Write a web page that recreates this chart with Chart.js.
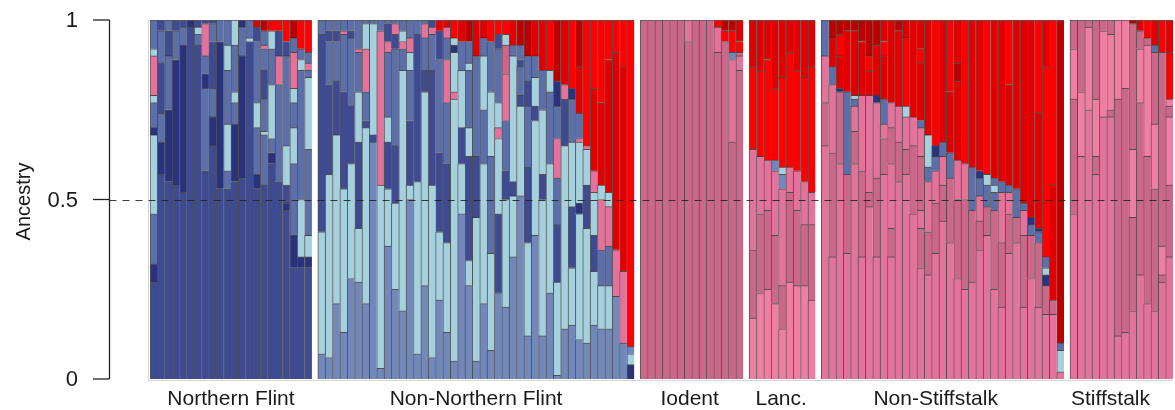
<!DOCTYPE html>
<html><head><meta charset="utf-8">
<script src="https://cdn.jsdelivr.net/npm/chart.js@4.4.1/dist/chart.umd.min.js"></script>
<style>html,body{margin:0;padding:0;background:#fff}#wrap{width:1175px;height:410px;position:relative}</style>
</head><body><div id="wrap"><canvas id="c"></canvas></div>
<script>
// ---- DATA ----
// Each bar: ancestry components stacked bottom -> top; token = component letter + cumulative top (%)
const groups = ['Northern Flint','Non-Northern Flint','Iodent','Lanc.','Non-Stiffstalk','Stiffstalk'];

const northernFlint = [
 "N27 D32 M46 L68 D70 M77 L79 P90 L92 M100","N57 D66 M74 N88 M97 N100","N55 D75 M90 N97 M100",
 "N54 D89 M97 N100","N52 D93 M98 N100","N98 D100","N93 M96 L98 N100","N58 M81 D85 M90 P99 N100",
 "N65 D73 M81 N94 M99 N100","N53 D94 M100","N53 M58 L71 M86 L93 M100","N55 D71 M77 L80 M93 L100",
 "N56 D90 M98 D100","N94 L95 M100","N53 D57 M70 L77 M94 N98 E100","N54 M68 L69 M78 N86 M92 P93 M97 F100",
 "N60 D63 M67 L82 M92 L97 R100","N55 M82 P90 N97 R100","N47 D49 N54 L65 M90 N94 R100",
 "N31 D40 M60 L70 M77 L81 P91 M95 F100","N31 D34 L50 M86 L89 M92 R100","N31 D34 L40 M64 L84 M86 P88 M91 R100"
];
const nonNorthernFlint = [
 "S7 L41 N96 M100","S6 L57 N82 M94 N97 M100","S21 L68 N83 M94 N97 M100","S13 L53 N80 M96 P97 M100",
 "S28 L60 N76 M95 N97 M100","S27 L42 N66 L80 M91 P92 M100","S21 L70 N72 M80 P92 L99 M100","S66 N68 L99 M100",
 "S3 L54 P97 M100","S37 L53 N66 L73 M91 P94 N99 M100","S25 L49 N65 M92 N96 P99 M100","S19 L86 M92 P94 L97 M100",
 "S50 L54 N72 M86 L91 P95 M100","S7 L55 N96 M100","S26 L80 N86 M95 P99 M100","S6 L54 N86 M96 P98 N100",
 "S22 L41 N63 M89 N97 E100","S13 L38 N60 M77 P89 M95 P98 E100","S5 L78 P80 L91 D93 L95 R100",
 "S46 L60 N70 L86 M94 E100","S26 L33 N62 L70 M86 L88 M94 F100","S5 L45 N62 M90 E100",
 "S21 L60 M75 L90 M95 E100","S8 L35 M62 L80 M94 R100","S24 N46 L67 P70 L77 M92 N96 R100",
 "S20 L50 N58 M72 P85 Q93 L96 R100","S34 L51 N55 L90 M93 E100","S51 L76 N79 M87 N89 M93 F100",
 "S12 L38 N59 M76 N83 M90 F100","S40 L72 N76 L84 M90 E100","S12 L50 N57 L75 M86 E100",
 "S24 L60 M80 L86 R100","S1 L27 N43 M56 P67 M76 D83 F100","S14 L65 N78 P82 E100",
 "S15 L31 N48 L66 M78 D81 R100","S11 L46 D49 L66 P67 M74 E87 F100","S10 L42 N54 L64 P65 R100",
 "S15 L30 N40 L52 P58 E81 R100","S14 L26 M36 P50 L54 E77 R100","S14 L26 M37 P48 L52 E89 R100",
 "S23 P36 E91 R100","S10 P30 E87 R100","D4 L7 S9 R100"
];
const iodent = [
 "Q100","Q100","Q100","Q100","Q100","Q100","Q94 P100","Q100","Q100","Q100",
 "Q91 P98 R100","Q94 R97 F100","Q66 P89 S91 R97 F100","Q86 P90 Q91 R94 E100"
];
const lanc = [
 "K17 Q36 P64 R87 E100","K24 Q46 P62 R86 E100","K25 Q47 P61 R89 E100","K21 Q40 P58 S61 R81 E100",
 "K14 Q26 P53 S57 L59 R84 E100","K27 Q52 P59 R91 E100","K26 Q47 P58 R86 E100","K26 Q43 P55 R84 E100",
 "K22 Q43 P52 R87 E100"
];
const nonStiffstalk = [
 "P65 Q77 P90 M100","P34 Q63 P82 M87 E95 F100","P60 Q80 D81 E90 R96 F100","P35 Q57 M80 E97 F100",
 "P60 Q69 P76 M78 L79 E97 F100","P34 Q58 P79 E94 F100","P48 Q52 P79 E86 R90 F100","P34 Q56 P77 D79 E93 F100",
 "P57 Q67 P71 M78 E90 R94 E100","P34 Q42 P60 Q70 P77 E100","P55 Q66 P76 E97 F100","P57 Q64 P73 L76 R95 E100",
 "P46 Q65 P73 E100","P31 Q42 P47 Q62 P70 M72 E88 R92 E100","P29 Q41 P55 M59 L68 E100","P35 Q49 P58 M62 D65 R100",
 "P44 Q54 P62 M66 E100","P38 Q56 M63 E80 R100","P28 Q50 P61 E83 F88 E100","P25 Q50 P60 R100",
 "P27 Q47 M59 E100","P36 Q44 P51 M56 D58 E100","P40 Q48 M54 L57 R100","P25 Q47 M52 L54 M56 E100",
 "P20 Q38 P52 M55 E100","P35 Q46 P52 M54 E82 R100","P38 Q45 M53 E100","P20 Q40 P47 M49 E100",
 "P28 Q40 M43 D45 E100","P20 Q38 M41 D42 E74 R100","P18 Q26 D29 L31 M34 R87 E100","P18 Q22 E54 R100",
 "P2 L8 M10 F100"
];
const stiffstalk = [
 "P46 Q78 K92 Q100","P62 K80 Q100","P75 K98 Q100","P57 Q62 K78 Q100","P73 K97 Q100",
 "P73 Q75 K96 Q100","P12 Q78 K100","P13 Q81 K100","P19 Q45 K64 Q99 F100","P29 Q77 K92 Q97 E100",
 "P21 Q62 K93 Q95 R100","P19 Q53 K71 Q91 M93 E100","P27 Q29 K37 Q91 R100","P34 Q54 K73 Q76 K78 R91 E100"
];
const yTicks = [0, 0.5, 1];
const yTickLabels = ['0', '0.5', '1'];
const yTitle = 'Ancestry';
const refLine = 0.5;

// ---- STYLE ----
const palette = {
  N:'#3f4b91', D:'#29327c', M:'#5c6fa9', S:'#7388ba', L:'#a5d0de',
  P:'#e4729a', Q:'#cc6789', K:'#f27da2', R:'#ff0000', E:'#e00000', F:'#bb0000'
};
const FONT = "'Liberation Sans', Arial, Helvetica, sans-serif";
const GAP = 0.8;

// ---- BUILD ----
const groupData = [northernFlint, nonNorthernFlint, iodent, lanc, nonStiffstalk, stiffstalk];
const bars = [], spans = [];
let pos = 0;
groupData.forEach((g, gi) => {
  if (gi > 0) pos += GAP;
  const start = pos;
  g.forEach(str => {
    let prev = 0;
    const segs = str.trim().split(/\s+/).map(t => {
      const top = parseFloat(t.slice(1)) / 100;
      const s = { comp: t[0], y: top - prev }; prev = top; return s;
    });
    bars.push({ x: pos, segs });
    pos += 1;
  });
  spans.push({ start, end: pos - 1 });
});
const nLayers = Math.max(...bars.map(b => b.segs.length));
const datasets = [];
for (let k = 0; k < nLayers; k++) {
  datasets.push({
    data: bars.filter(b => b.segs[k]).map(b => ({ x: b.x, y: b.segs[k].y, comp: b.segs[k].comp })),
    backgroundColor: c => palette[c.raw ? c.raw.comp : 'N'],
    borderColor: 'rgba(20,20,20,0.72)',
    borderWidth: { top: 1, left: 1, right: 0, bottom: 0 },
    borderSkipped: false,
    barPercentage: 1, categoryPercentage: 1
  });
}

const deco = {
  id: 'deco',
  afterDatasetsDraw(chart) {
    const { ctx, chartArea: a, scales: { x, y } } = chart;
    const axisX = 109.5;
    ctx.save();
    // faint frame
    ctx.strokeStyle = '#d4d4d4'; ctx.lineWidth = 1;
    ctx.beginPath();
    ctx.moveTo(a.left - 1.5, a.top); ctx.lineTo(a.left - 1.5, a.bottom + 1.5); ctx.lineTo(a.right, a.bottom + 1.5);
    ctx.stroke();
    // reference dashed line
    const yr = Math.round(y.getPixelForValue(refLine)) + 0.5;
    ctx.setLineDash([7, 6]); ctx.strokeStyle = 'rgba(30,30,30,0.85)'; ctx.lineWidth = 1.2;
    ctx.beginPath(); ctx.moveTo(axisX, yr); ctx.lineTo(chart.width, yr); ctx.stroke();
    ctx.setLineDash([]);
    // y axis
    ctx.strokeStyle = '#222'; ctx.lineWidth = 1.3;
    const y0 = y.getPixelForValue(0), y1 = y.getPixelForValue(1);
    ctx.beginPath(); ctx.moveTo(axisX, y1); ctx.lineTo(axisX, y0); ctx.stroke();
    ctx.fillStyle = '#1a1a1a'; ctx.font = '22px ' + FONT;
    ctx.textAlign = 'right'; ctx.textBaseline = 'middle';
    yTicks.forEach((v, i) => {
      const py = y.getPixelForValue(v);
      ctx.beginPath(); ctx.moveTo(93, py); ctx.lineTo(axisX, py); ctx.stroke();
      ctx.fillText(yTickLabels[i], 78, py + 1);
    });
    // y title
    ctx.save();
    ctx.translate(24, (y0 + y1) / 2 + 2); ctx.rotate(-Math.PI / 2);
    ctx.textAlign = 'center'; ctx.font = '20px ' + FONT;
    ctx.fillText(yTitle, 0, 0);
    ctx.restore();
    // group labels
    ctx.textAlign = 'center'; ctx.font = '21px ' + FONT;
    const shifts = chart.options.plugins.deco.labelShift;
    groups.forEach((g, i) => {
      const cx = (x.getPixelForValue(spans[i].start) + x.getPixelForValue(spans[i].end)) / 2 + shifts[i];
      ctx.fillText(g, cx, 399);
    });
    ctx.restore();
  }
};

new Chart(document.getElementById('c'), {
  type: 'bar',
  data: { datasets },
  options: {
    responsive: true, maintainAspectRatio: false, animation: false,
    layout: { padding: { left: 150, right: 2, top: 20, bottom: 31 } },
    scales: {
      x: { type: 'linear', min: -0.5, max: pos - 0.5, display: false, stacked: true, offset: false },
      y: { min: 0, max: 1, display: false, stacked: true }
    },
    plugins: { legend: { display: false }, tooltip: { enabled: false }, deco: { labelShift: [0, 0, -2, -1, -7, -11] } }
  },
  plugins: [deco]
});
</script></body></html>
